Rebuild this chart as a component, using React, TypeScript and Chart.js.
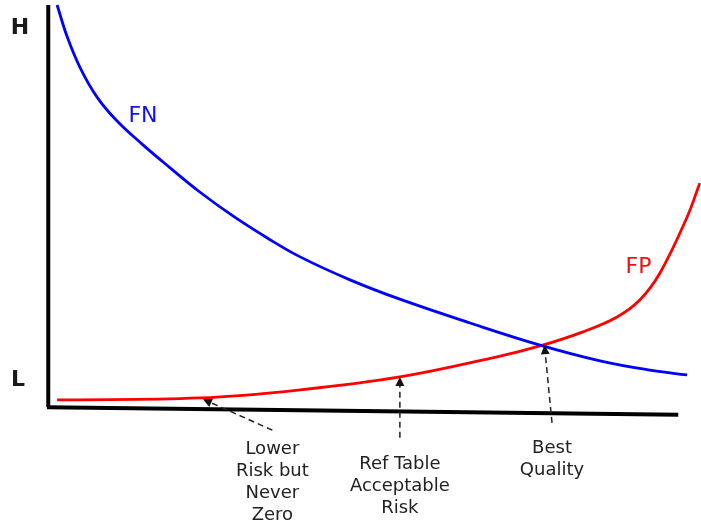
import { useEffect, useRef } from 'react';
import { Chart, registerables } from 'chart.js';

Chart.register(...registerables);

// x: threshold (0 = left axis, 100 = end of bottom axis), y: risk (0 = L, 100 = H)
const fnX = [1.6, 3.2, 5.2, 7.9, 11.1, 15.2, 19.5, 24.2, 29.5, 34.9, 40.1, 48.0, 55.9, 67.0, 78.1, 87.6, 95.5, 101.4];
const fnY = [100, 92.1, 84.6, 77.2, 71.2, 65.3, 59.6, 53.6, 47.6, 42.2, 37.5, 31.8, 27.0, 21.1, 15.6, 11.7, 9.4, 8.2];

const fpX = [1.6, 24.2, 40.1, 55.9, 71.3, 78.1, 84.9, 90.3, 93.9, 97.1, 101.4, 103.4];
const fpY = [2.0, 2.5, 4.5, 7.7, 12.7, 15.4, 18.9, 22.6, 26.8, 33.5, 47.4, 55.8];

// axis lines (the bottom one sags slightly to the right)
const leftAxisX = [0.2, 0.2];
const leftAxisY = [0.2, 100];
const bottomAxisX = [0, 100];
const bottomAxisY = [0.2, -1.7];

// callouts: dashed arrow from text to curve
const callouts = [
  { lines: ['Lower', 'Risk but', 'Never', 'Zero'], tx: 35.7, ty: -10.3, from: [35.7, -5.5], to: [24.7, 2.2] },
  { lines: ['Ref Table', 'Acceptable', 'Risk'], tx: 55.9, ty: -14.0, from: [55.9, -7.4], to: [55.9, 7.7] },
  { lines: ['Best', 'Quality'], tx: 80.0, ty: -10.0, from: [80.0, -3.7], to: [78.8, 15.6] },
];

const zip = (xs: number[], ys: number[]) => xs.map((x, i) => ({ x, y: ys[i] }));

const annotate = {
  id: 'annotate',
  afterDatasetsDraw(chart: any) {
    const { ctx, scales } = chart;
    const px = (v: number) => scales.x.getPixelForValue(v);
    const py = (v: number) => scales.y.getPixelForValue(v);
    ctx.save();
    ctx.textAlign = 'center';
    ctx.textBaseline = 'middle';

    // H / L
    ctx.fillStyle = '#1a1a1a';
    ctx.font = 'bold 22px "DejaVu Sans"';
    ctx.fillText('H', px(-4.3), py(94.3));
    ctx.fillText('L', px(-4.6), py(6.9));

    // curve names
    ctx.font = '22px "DejaVu Sans"';
    ctx.fillStyle = '#1010f0';
    ctx.fillText('FN', px(15.2), py(72.5));
    ctx.fillStyle = '#f01010';
    ctx.fillText('FP', px(93.7), py(35.0));

    // callouts
    ctx.font = '18px "DejaVu Sans"';
    callouts.forEach((c) => {
      ctx.fillStyle = '#222';
      c.lines.forEach((l, i) => ctx.fillText(l, px(c.tx), py(c.ty) + i * 22));
      const x1 = px(c.from[0]), y1 = py(c.from[1]);
      const x2 = px(c.to[0]), y2 = py(c.to[1]);
      const a = Math.atan2(y2 - y1, x2 - x1);
      const len = 9;
      ctx.strokeStyle = '#222';
      ctx.lineWidth = 1.5;
      ctx.setLineDash([6, 4]);
      ctx.beginPath();
      ctx.moveTo(x1, y1);
      ctx.lineTo(x2 - Math.cos(a) * len, y2 - Math.sin(a) * len);
      ctx.stroke();
      ctx.setLineDash([]);
      ctx.fillStyle = '#111';
      ctx.beginPath();
      ctx.moveTo(x2, y2);
      ctx.lineTo(x2 - Math.cos(a) * len + Math.sin(a) * 4.5, y2 - Math.sin(a) * len - Math.cos(a) * 4.5);
      ctx.lineTo(x2 - Math.cos(a) * len - Math.sin(a) * 4.5, y2 - Math.sin(a) * len + Math.cos(a) * 4.5);
      ctx.closePath();
      ctx.fill();
    });
    ctx.restore();
  },
};

const App = () => {
  const chartRef = useRef<HTMLCanvasElement>(null);

  useEffect(() => {
    const ctx = chartRef.current?.getContext('2d');
    if (!ctx) return;

    const chart = new Chart(ctx, {
      type: 'line',
      data: {
        datasets: [
          { label: 'axisL', data: zip(leftAxisX, leftAxisY), borderColor: '#000', borderWidth: 4, pointRadius: 0, clip: false as any, tension: 0 },
          { label: 'axisB', data: zip(bottomAxisX, bottomAxisY), borderColor: '#000', borderWidth: 4, pointRadius: 0, clip: false as any, tension: 0 },
          { label: 'FN', data: zip(fnX, fnY), borderColor: '#0000ff', borderWidth: 2.8, pointRadius: 0, clip: false as any, tension: 0.4 },
          { label: 'FP', data: zip(fpX, fpY), borderColor: '#ff0000', borderWidth: 2.8, pointRadius: 0, clip: false as any, tension: 0.4 },
        ],
      },
      options: {
        animation: false,
        responsive: true,
        maintainAspectRatio: false,
        layout: { padding: { left: 47, right: 0, top: 5, bottom: 117 } },
        scales: {
          x: { type: 'linear', min: 0, max: 103.6, display: false },
          y: { type: 'linear', min: 0, max: 100, display: false },
        },
        plugins: {
          legend: { display: false },
          tooltip: { enabled: false },
        },
      },
      plugins: [annotate],
    });

    return () => {
      chart.destroy();
    };
  }, []);

  return (
    <div style={{ position: 'absolute', left: 0, top: 0, width: 701, height: 525, background: '#fff' }}>
      <canvas ref={chartRef} />
    </div>
  );
};

export default App;
